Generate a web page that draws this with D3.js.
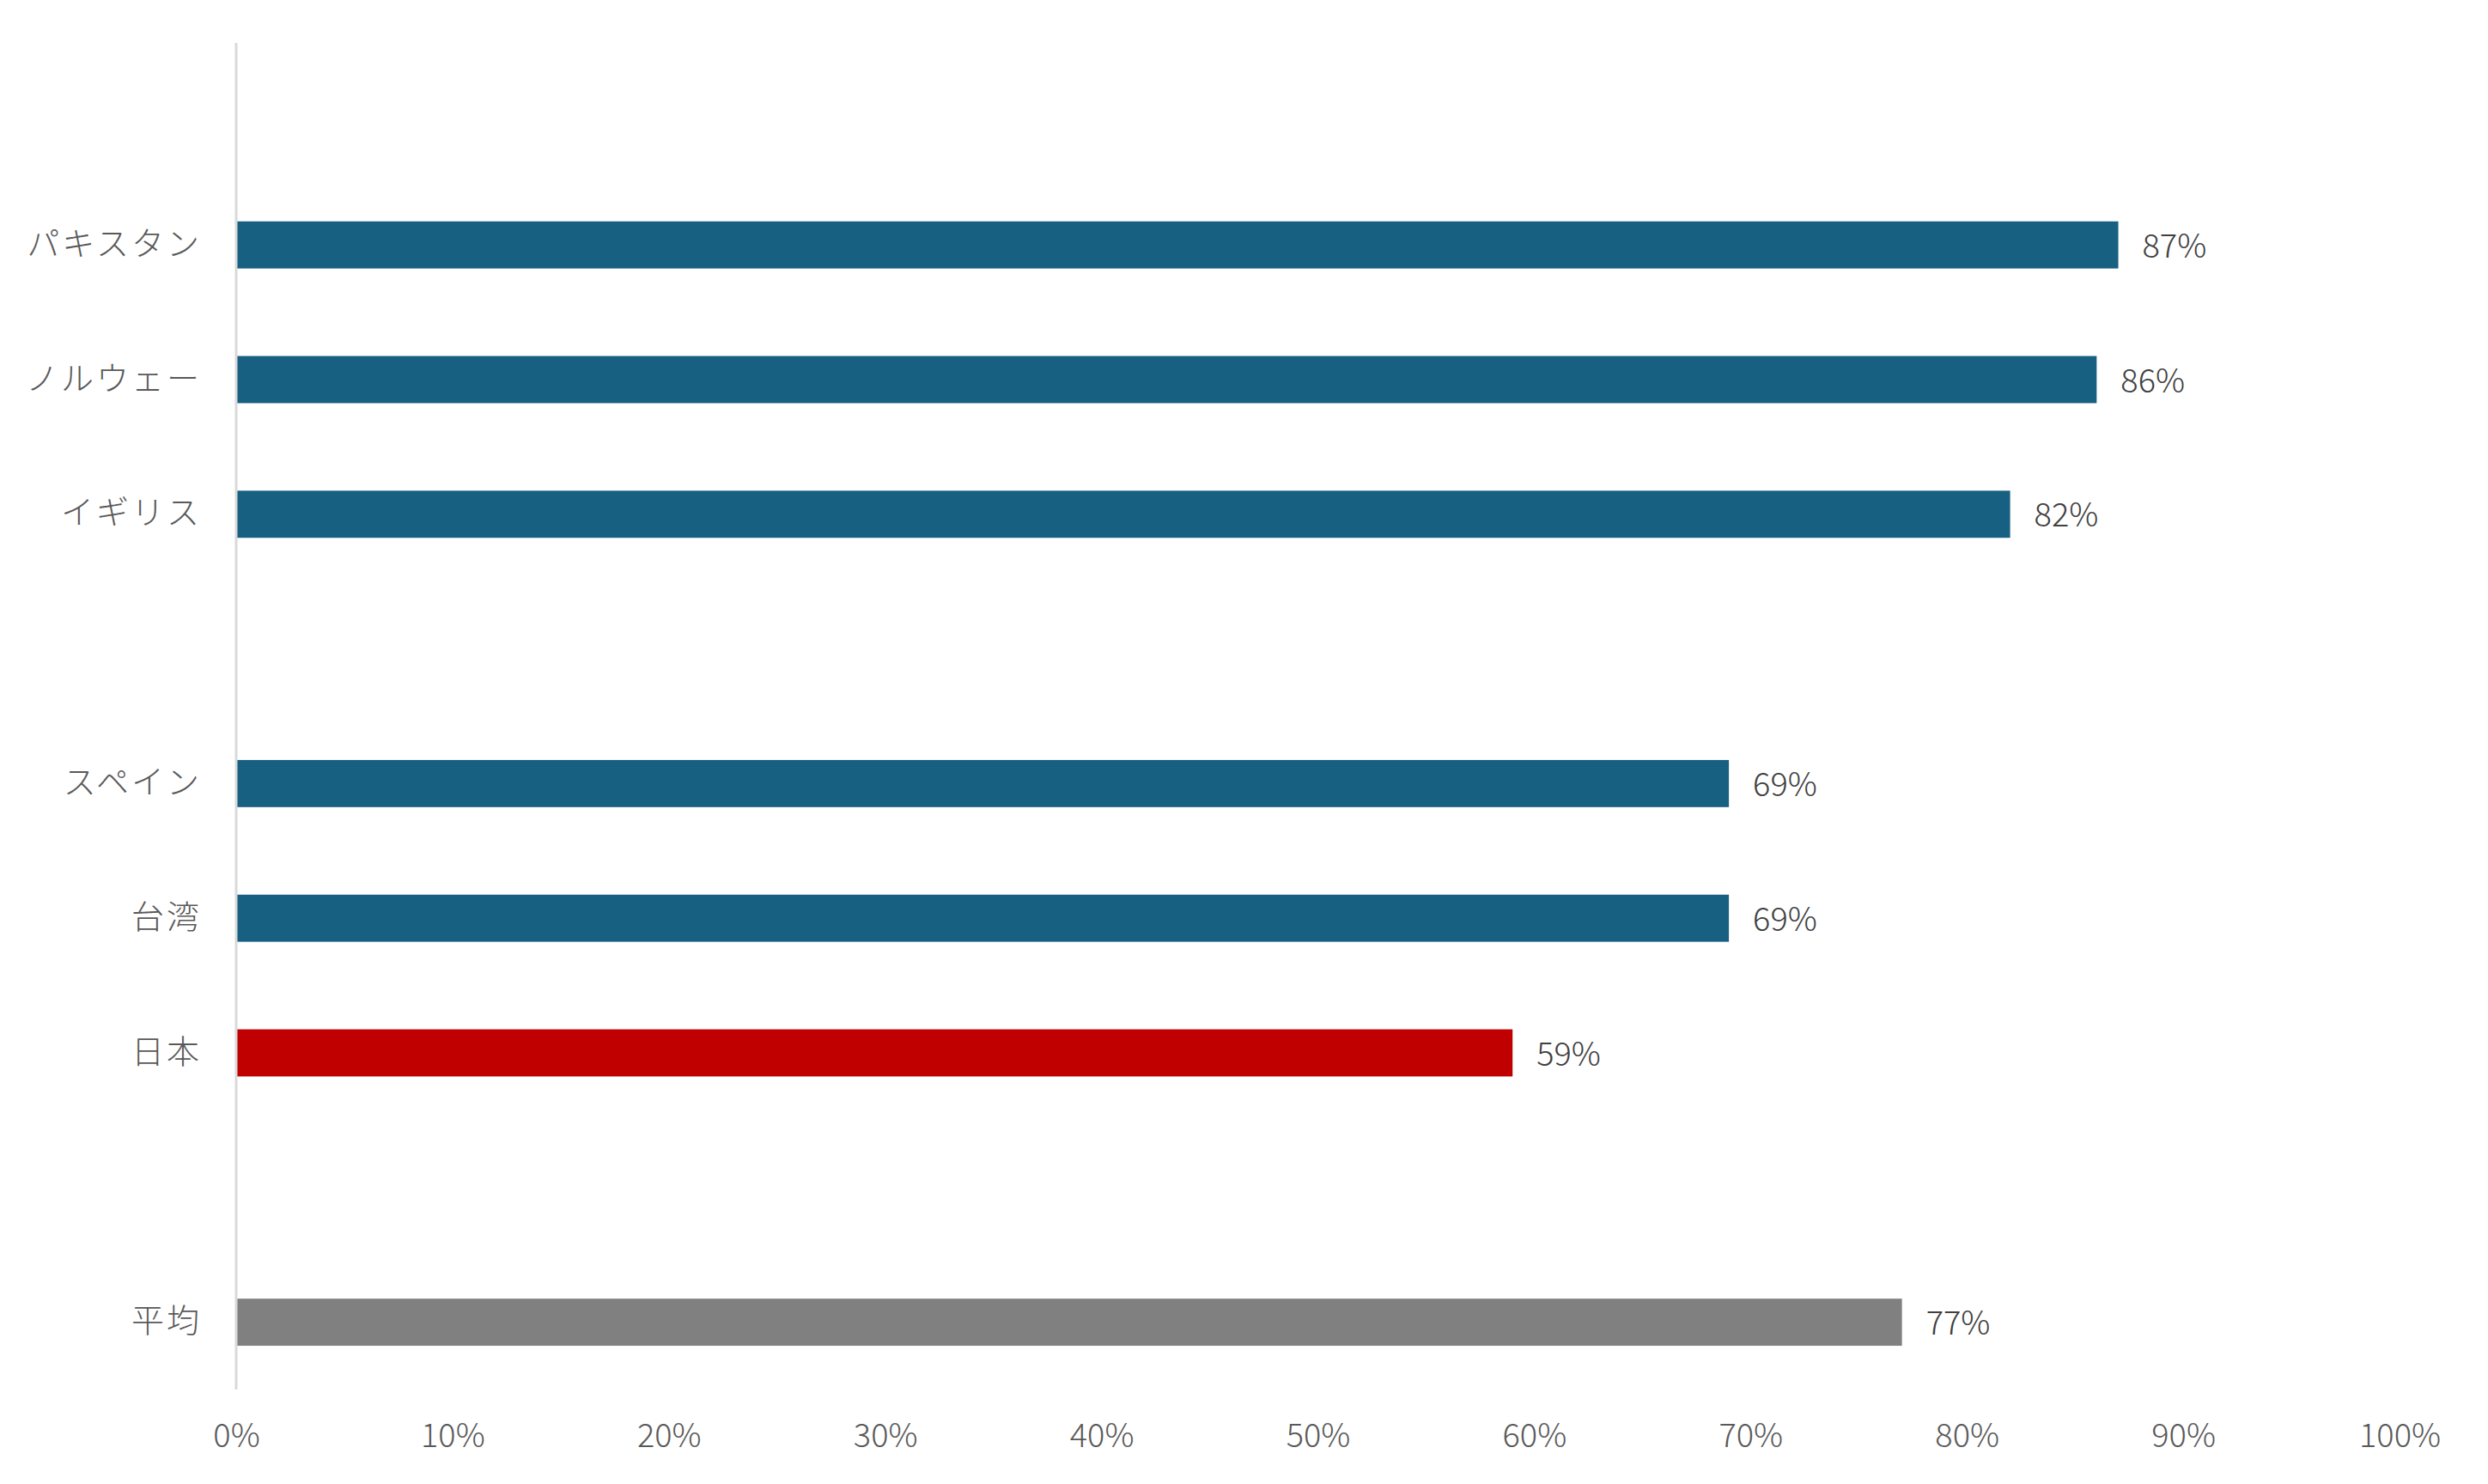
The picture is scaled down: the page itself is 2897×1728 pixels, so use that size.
<!DOCTYPE html>
<html>
<head>
<meta charset="utf-8">
<script src="https://cdn.jsdelivr.net/npm/d3@7"></script>
<style>
  html, body { margin: 0; padding: 0; background: #ffffff; }
  svg text { font-family: "Noto Sans CJK JP", "Noto Sans", sans-serif; }
</style>
</head>
<body>
<svg id="chart" width="2897" height="1728"></svg>
<script>
// ---- data ----
const categories = ["", "パキスタン", "ノルウェー", "イギリス", "", "スペイン", "台湾", "日本", "", "平均"];
const values = [null, 0.87, 0.86, 0.82, null, 0.69, 0.69, 0.59, null, 0.77];
const tickValues = [0, 0.1, 0.2, 0.3, 0.4, 0.5, 0.6, 0.7, 0.8, 0.9, 1.0];
const tickLabels = ["0%", "10%", "20%", "30%", "40%", "50%", "60%", "70%", "80%", "90%", "100%"];

// ---- styles ----
const colorFor = name => name === "日本" ? "#C00000" : (name === "平均" ? "#808080" : "#176082");

(function () {
const svg = d3.select("#chart");
const plotLeft = 275, plotRight = 2794, plotTop = 50, plotBottom = 1618;

const x = d3.scaleLinear().domain([0, 1]).range([plotLeft, plotRight]);
const y = d3.scaleBand().domain(d3.range(categories.length)).range([plotTop, plotBottom])
  .paddingInner(0.65).paddingOuter(0.325);

const rows = categories.map((c, i) => ({ i, name: c, value: values[i] }));
const bars = rows.filter(d => d.value != null);

// bars
svg.append("g").selectAll("rect").data(bars).join("rect")
  .attr("x", x(0))
  .attr("y", d => y(d.i))
  .attr("width", d => x(d.value) - x(0))
  .attr("height", y.bandwidth())
  .attr("fill", d => colorFor(d.name));

// vertical category axis line
svg.append("line")
  .attr("x1", x(0)).attr("x2", x(0))
  .attr("y1", plotTop).attr("y2", plotBottom)
  .attr("stroke", "#d9d9d9").attr("stroke-width", 3);

// category labels
svg.append("g").selectAll("text").data(rows.filter(d => d.name !== "")).join("text")
  .attr("x", x(0) - 40)
  .attr("y", d => y(d.i) + y.bandwidth() / 2 - 5)
  .attr("text-anchor", "end")
  .attr("dominant-baseline", "central")
  .attr("font-size", 38)
  .attr("font-weight", 300)
  .attr("letter-spacing", 3)
  .attr("fill", "#595959")
  .text(d => d.name);

// value labels
svg.append("g").selectAll("text").data(bars).join("text")
  .attr("x", d => x(d.value) + 28)
  .attr("y", d => y(d.i) + y.bandwidth() / 2 - 2)
  .attr("text-anchor", "start")
  .attr("dominant-baseline", "central")
  .attr("font-size", 38)
  .attr("font-weight", 300)
  .attr("fill", "#404040")
  .text(d => Math.round(d.value * 100) + "%");

// x axis tick labels (no axis line)
const xAxis = d3.axisBottom(x).tickValues(tickValues)
  .tickFormat((d, i) => tickLabels[i]).tickSize(0).tickPadding(0);
const gx = svg.append("g").attr("transform", `translate(0, ${plotBottom})`).call(xAxis);
gx.select(".domain").remove();
gx.selectAll("text")
  .attr("y", 50)
  .attr("dy", null)
  .attr("dominant-baseline", "central")
  .attr("font-size", 38)
  .attr("font-weight", 300)
  .attr("font-family", "\"Noto Sans CJK JP\", \"Noto Sans\", sans-serif")
  .attr("fill", "#595959");
})();
</script>
</body>
</html>
